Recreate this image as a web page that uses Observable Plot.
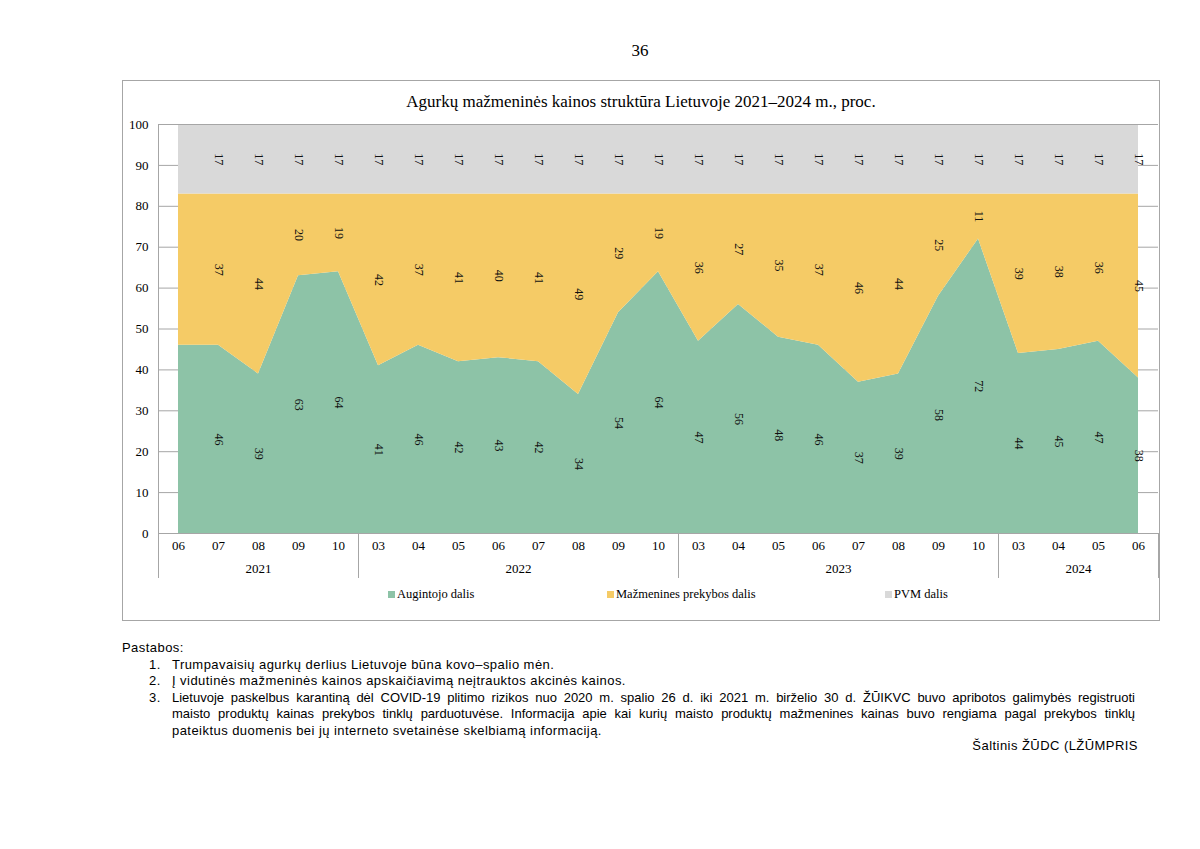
<!DOCTYPE html>
<html><head><meta charset="utf-8">
<script src="https://cdn.jsdelivr.net/npm/d3@7"></script>
<script src="https://cdn.jsdelivr.net/npm/@observablehq/plot@0.6"></script>
<style>
html,body{margin:0;padding:0;background:#fff;}
body{width:1200px;height:849px;position:relative;overflow:hidden;font-family:"Liberation Serif","Times New Roman",serif;color:#000;}
#pg{position:absolute;left:0;width:1280px;top:41px;text-align:center;font-size:17px;line-height:20px;}
#box{position:absolute;left:122px;top:80px;width:1038px;height:541px;box-sizing:border-box;border:1px solid #a6a6a6;}
#title{position:absolute;left:0;right:0;top:11px;text-align:center;font-size:17px;line-height:20px;}
#chart{position:absolute;left:0;top:33px;}
#chart svg text{font-family:"Liberation Serif","Times New Roman",serif;}
.lg{position:absolute;top:505px;font-size:12.5px;line-height:16px;white-space:nowrap;}
.lg i{display:inline-block;width:7px;height:7px;margin-right:2px;vertical-align:0px;}
#notes{position:absolute;left:122px;top:640px;font-family:"Liberation Sans",Arial,sans-serif;font-size:13px;line-height:16.6px;letter-spacing:0.45px;}
.it{position:relative;padding-left:50px;width:963px;}
.it b{position:absolute;left:27px;font-weight:normal;}
.j{text-align:justify;text-align-last:justify;letter-spacing:0;}
#src{position:absolute;left:0;top:737px;width:1138px;text-align:right;font-family:"Liberation Sans",Arial,sans-serif;font-size:13px;line-height:17px;letter-spacing:0.45px;}
</style></head><body>
<div id="pg">36</div>
<div id="box">
  <div id="title">Agurkų mažmeninės kainos struktūra Lietuvoje 2021–2024 m., proc.</div>
  <div id="chart"></div>
  <div class="lg" style="left:265px"><i style="background:#8DC3A7"></i>Augintojo dalis</div>
  <div class="lg" style="left:484px"><i style="background:#F5CB66"></i>Mažmenines prekybos dalis</div>
  <div class="lg" style="left:762px"><i style="background:#D9D9D9"></i>PVM dalis</div>
</div>
<div id="notes">
  <div>Pastabos:</div>
  <div class="it"><b>1.</b>Trumpavaisių agurkų derlius Lietuvoje būna kovo–spalio mėn.</div>
  <div class="it"><b>2.</b>Į vidutinės mažmeninės kainos apskaičiavimą neįtrauktos akcinės kainos.</div>
  <div class="it"><b>3.</b><div class="j">Lietuvoje paskelbus karantiną dėl COVID-19 plitimo rizikos nuo 2020 m. spalio 26 d. iki 2021 m. birželio 30 d. ŽŪIKVC buvo apribotos galimybės registruoti</div><div class="j">maisto produktų kainas prekybos tinklų parduotuvėse. Informacija apie kai kurių maisto produktų mažmenines kainas buvo rengiama pagal prekybos tinklų</div><div>pateiktus duomenis bei jų interneto svetainėse skelbiamą informaciją.</div></div>
</div>
<div id="src">Šaltinis ŽŪDC (LŽŪMPRIS</div>
<script>
const periodMonth = ["06","07","08","09","10","03","04","05","06","07","08","09","10","03","04","05","06","07","08","09","10","03","04","05","06"];
const periodYear = ["2021","2021","2021","2021","2021","2022","2022","2022","2022","2022","2022","2022","2022","2023","2023","2023","2023","2023","2023","2023","2023","2024","2024","2024","2024"];
const farmerShare = [46,46,39,63,64,41,46,42,43,42,34,54,64,47,56,48,46,37,39,58,72,44,45,47,38];
const retailShare = [37,37,44,20,19,42,37,41,40,41,49,29,19,36,27,35,37,46,44,25,11,39,38,36,45];
const vatShare = [17,17,17,17,17,17,17,17,17,17,17,17,17,17,17,17,17,17,17,17,17,17,17,17,17];
const labelled = [false,true,true,true,true,true,true,true,true,true,true,true,true,true,true,true,true,true,true,true,true,true,true,true,true];
const seriesNames = ["Augintojo dalis","Mažmenines prekybos dalis","PVM dalis"];
const seriesColors = ["#8DC3A7","#F5CB66","#D9D9D9"];
const yTicks = [0,10,20,30,40,50,60,70,80,90,100];

const serif = "Liberation Serif, Times New Roman, serif";
const rows = periodMonth.map((m,i)=>({i, m, yr:periodYear[i], a:farmerShare[i], b:retailShare[i], c:vatShare[i]}));
const long = rows.flatMap(r=>[
  {i:r.i, s:seriesNames[0], y1:0, y2:r.a, v:r.a, lab:labelled[r.i]},
  {i:r.i, s:seriesNames[1], y1:r.a, y2:r.a+r.b, v:r.b, lab:labelled[r.i]},
  {i:r.i, s:seriesNames[2], y1:r.a+r.b, y2:r.a+r.b+r.c, v:r.c, lab:labelled[r.i]}
]);
const yearGroups = Array.from(d3.group(rows, d=>d.yr), ([yr, g])=>({yr, mid:d3.mean(g, d=>d.i), first:d3.min(g,d=>d.i)}));
const seps = [...yearGroups.slice(1).map(g=>g.first-0.5), rows.length-0.5];

const plotH = 465, mT = 10, mB = 46;
const chart = Plot.plot({
  width:1036, height:plotH, marginLeft:35, marginRight:1, marginTop:mT, marginBottom:mB,
  x:{type:"linear", domain:[-0.5, rows.length-0.5], axis:null},
  y:{domain:[0,100], axis:null},
  color:{domain:seriesNames, range:seriesColors},
  style:{fontFamily:serif, fontSize:"13px", color:"#000", background:"transparent", overflow:"visible"},
  marks:[
    Plot.ruleY(yTicks, {stroke:"#a6a6a6", strokeWidth:1}),
    Plot.areaY(long, {x:"i", y1:"y1", y2:"y2", fill:"s", z:"s", curve:"linear"}),
    Plot.ruleY([0,100], {stroke:"#a6a6a6", strokeWidth:1}),
    Plot.axisY(yTicks, {tickSize:0, tickPadding:10, fontSize:13, fontFamily:serif, fill:"#000"}),
    Plot.ruleX([-0.5], {stroke:"#a6a6a6", insetBottom:-45}),
    Plot.ruleX(seps, {stroke:"#a6a6a6", insetTop:plotH-mT-mB, insetBottom:-45}),
    Plot.text(rows, {x:"i", text:"m", frameAnchor:"bottom", dy:16, fontSize:13, fontFamily:serif, fill:"#000"}),
    Plot.text(yearGroups, {x:"mid", text:"yr", frameAnchor:"bottom", dy:39, fontSize:13, fontFamily:serif, fill:"#000"}),
    Plot.text(long.filter(d=>d.lab), {x:"i", y:d=>(d.y1+d.y2)/2, text:d=>String(d.v), rotate:90, fontSize:12, fontFamily:serif, fill:"#111"})
  ]
});
document.getElementById("chart").appendChild(chart);
</script>
</body></html>
